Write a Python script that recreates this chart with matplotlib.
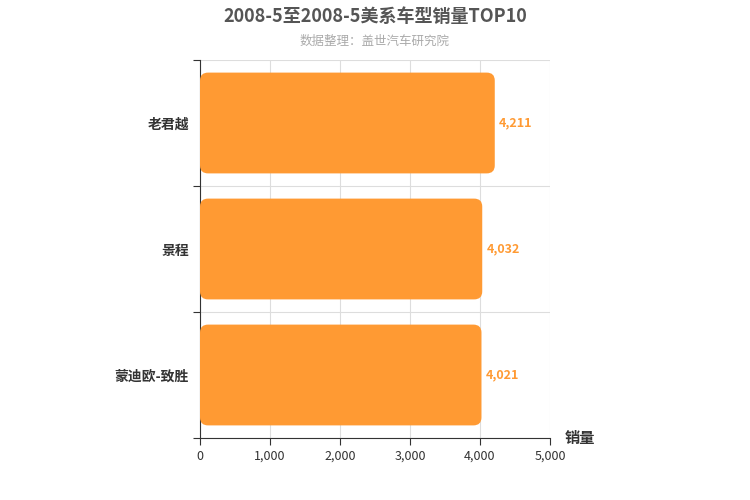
import matplotlib
matplotlib.use('Agg')
import matplotlib.pyplot as plt
from matplotlib.patches import FancyBboxPatch

plt.rcParams['font.family'] = ['Noto Sans CJK SC', 'DejaVu Sans']

categories = ['蒙迪欧-致胜', '景程', '老君越']
values = [4021, 4032, 4211]
xticks = [0, 1000, 2000, 3000, 4000, 5000]

fig = plt.figure(figsize=(7.5, 5), dpi=100)
ax = fig.add_axes([200/750, 62/500, 350/750, 378/500])
ax.set_xlim(0, 5000)
ax.set_ylim(-0.5, 2.5)
color = '#ff9a33'
bars = ax.barh(range(3), values, height=0.8, color=color)
for b in bars:
    x, y, w, h = b.get_x(), b.get_y(), b.get_width(), b.get_height()
    b.set_visible(False)
    p = FancyBboxPatch((x, y), w, h, boxstyle='round,pad=0,rounding_size=115',
                       mutation_aspect=0.063/115, fc=color, ec='none', zorder=3)
    ax.add_patch(p)
for i, v in enumerate(values):
    ax.text(v + 60, i, f'{v:,}', va='center', ha='left', color=color, fontsize=9, fontweight='bold')

ax.set_xticks(xticks)
ax.set_xticklabels([f'{t:,}' for t in xticks], fontsize=9, color='#333333')
ax.set_yticks([-0.5, 0.5, 1.5, 2.5], minor=False)
ax.set_yticklabels([])
ax.set_yticks(range(3), minor=True)
ax.set_yticklabels(categories, minor=True, fontsize=10, fontweight='bold', color='#333333')
ax.tick_params(axis='y', which='minor', length=0, pad=8)
ax.tick_params(axis='y', which='major', length=5, color='#333333')
ax.tick_params(axis='x', length=5, color='#333333')
ax.grid(True, axis='x', color='#dddddd', lw=0.8, zorder=0)
ax.grid(True, axis='y', which='major', color='#dddddd', lw=0.8, zorder=0)
ax.set_axisbelow(True)
for s in ['top', 'right']:
    ax.spines[s].set_visible(False)
ax.spines['left'].set_color('#333333')
ax.spines['bottom'].set_color('#333333')
fig.text(565/750, 1-438/500, '销量', fontsize=11, fontweight='bold', color='#333333', va='center')
fig.text(0.5, 1-16/500, '2008-5至2008-5美系车型销量TOP10', ha='center', va='center',
         fontsize=13, fontweight='bold', color='#555555')
fig.text(0.5, 1-41/500, '数据整理：盖世汽车研究院', ha='center', va='center', fontsize=9, color='#aaaaaa')
fig.savefig('out.png', dpi=100)
